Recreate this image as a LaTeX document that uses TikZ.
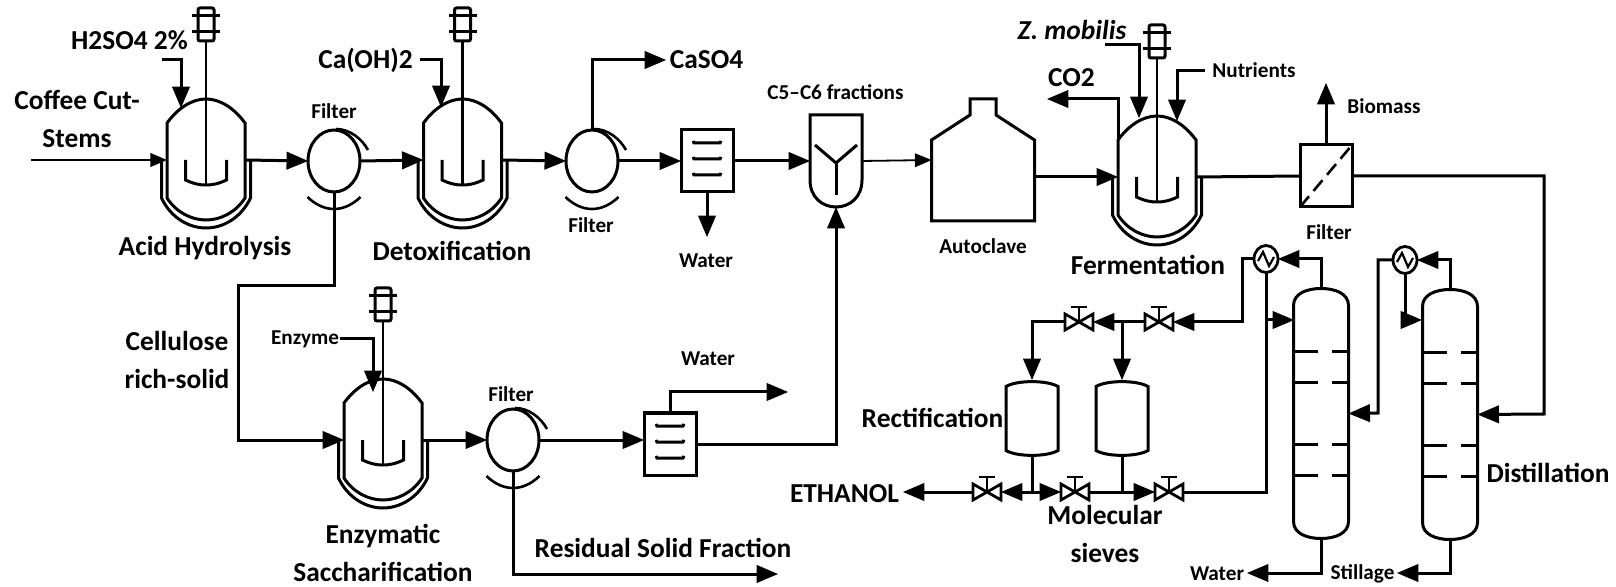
\documentclass[tikz,border=0pt]{standalone}
\usepackage{fontspec}
\setmainfont{Carlito}
\usetikzlibrary{shapes.geometric,arrows}
\tikzstyle{lbig} = [align=center, inner sep=0pt, text height=11pt, text depth=1pt, font=\fontsize{13.7}{19}\selectfont\bfseries]
\tikzstyle{ltwo} = [align=center, inner sep=0pt, font=\fontsize{13.7}{19}\selectfont\bfseries]
\tikzstyle{lsmall} = [align=center, inner sep=0pt, text height=8.5pt, text depth=1pt, font=\fontsize{10.6}{13}\selectfont\bfseries]
\tikzstyle{vessel} = [inner sep=0pt, outer sep=0pt, minimum width=39pt, minimum height=61pt]
\tikzstyle{drum} = [ellipse, draw=black, line width=1.5pt, inner sep=0pt, outer sep=0pt, minimum width=26pt, minimum height=31pt]
\tikzstyle{washer} = [rectangle, draw=black, line width=1.5pt, inner sep=0pt, outer sep=0pt, minimum width=26pt, minimum height=31pt]
\tikzstyle{splitter} = [inner sep=0pt, outer sep=0pt, minimum width=26pt, minimum height=46pt]
\tikzstyle{autoclave} = [inner sep=0pt, outer sep=0pt, minimum width=51.5pt, minimum height=61pt]
\tikzstyle{membrane} = [rectangle, draw=black, line width=1.5pt, inner sep=0pt, outer sep=0pt, minimum width=26pt, minimum height=31pt]
\tikzstyle{condenser} = [ellipse, draw=black, line width=1.4pt, inner sep=0pt, outer sep=0pt, minimum width=12pt, minimum height=13.5pt]
\tikzstyle{column} = [inner sep=0pt, outer sep=0pt, minimum width=27.5pt, minimum height=125pt]
\tikzstyle{tank} = [inner sep=0pt, outer sep=0pt, minimum width=26pt, minimum height=38.5pt]
\tikzstyle{valve} = [inner sep=0pt, outer sep=0pt, minimum width=14pt, minimum height=8pt]
\tikzstyle{flow} = [line width=1.5pt, -triangle 45]
\tikzstyle{thinflow} = [line width=0.9pt, -triangle 45]
\tikzstyle{pipe} = [line width=1.5pt]
\tikzset{
  reactor/.pic={
    \draw[line width=1.5pt] (-39,38) -- (-39,-37) .. controls (-28,-52) and (-14,-61) .. (0,-61) .. controls (14,-61) and (28,-52) .. (39,-37) -- (39,38) .. controls (30,52) and (15,60) .. (0,60) .. controls (-15,60) and (-30,52) .. (-39,38) -- cycle;
    \draw[line width=1.5pt] (-44.5,0) -- (-44.5,38) .. controls (-35,58) and (-17,68) .. (0,68) .. controls (17,68) and (35,58) .. (44.5,38) -- (44.5,0);
    \draw[line width=1.4pt] (0,-119) -- (0,25);
    \draw[line width=1.5pt] (-20.5,0) -- (-20.5,20) .. controls (-12,24) and (-6,25) .. (0,25) .. controls (6,25) and (12,24) .. (20.5,20) -- (20.5,0);
    \draw[line width=1.5pt, rounded corners=1pt] (-8,-152) rectangle (8,-119);
    \draw[line width=1.5pt] (-14,-144) -- (14,-144);
    \draw[line width=1.5pt] (-14,-128) -- (14,-128);
  },
  drumarcs/.pic={
    \draw[line width=1.3pt] (2,-32) .. controls (16,-32) and (28,-22) .. (34,-11);
    \draw[line width=1.3pt] (-26.5,36) .. controls (-10,52) and (10,52) .. (26.5,36);
  },
  trays/.pic={
    \foreach \ty in {-18,-2,14} {
      \draw[line width=1.5pt] (-14,\ty-2) -- (-13,\ty) -- (13,\ty) -- (14,\ty-2);
    }
  },
  splitbody/.pic={
    \draw[line width=1.5pt] (-26,-46) -- (26,-46) -- (26,19) .. controls (26,36) and (14,46) .. (0,46) .. controls (-14,46) and (-26,36) .. (-26,19) -- cycle;
    \draw[line width=1.5pt] (-21,-16) -- (0,2) -- (21,-16);
    \draw[line width=1.5pt] (0,2) -- (0,34);
  },
  clavebody/.pic={
    \draw[line width=1.5pt] (-51.5,61) -- (-51.5,-20) -- (-13,-45) -- (-13,-61) -- (13,-61) -- (13,-45) -- (51.5,-20) -- (51.5,61) -- cycle;
  },
  colbody/.pic={
    \draw[line width=1.5pt] (-27.5,-108) .. controls (-27.5,-120) and (-14,-125) .. (0,-125) .. controls (14,-125) and (27.5,-120) .. (27.5,-108) -- (27.5,108) .. controls (27.5,120) and (14,125) .. (0,125) .. controls (-14,125) and (-27.5,120) .. (-27.5,108) -- cycle;
    \foreach \ty in {-62,-31,31,62} {
      \draw[line width=1.5pt] (-27.5,\ty) -- (-3,\ty);
      \draw[line width=1.5pt] (11,\ty) -- (27.5,\ty);
    }
  },
  tankbody/.pic={
    \draw[line width=1.5pt] (-26,-32) .. controls (-15,-38.5) and (15,-38.5) .. (26,-32) -- (26,32) .. controls (15,38.5) and (-15,38.5) .. (-26,32) -- cycle;
  },
  valvebody/.pic={
    \draw[line width=1.4pt] (-14,-8) -- (0,0) -- (-14,8) -- cycle;
    \draw[line width=1.4pt] (14,-8) -- (0,0) -- (14,8) -- cycle;
    \draw[line width=1.4pt] (0,0) -- (0,-15);
    \draw[line width=1.4pt] (-8,-15) -- (8,-15);
  },
  zigzag/.pic={
    \draw[line width=1.1pt] (-8,2) -- (-3,-7) -- (3,7) -- (8,-2);
  }
}
\begin{document}
\begin{tikzpicture}[x=0.5pt,y=-0.5pt]
    \useasboundingbox (0,0) rectangle (1616,587);
    % vessels
    \node (R1) [vessel] at (206,160) {};
    \node (R2) [vessel] at (462.5,160) {};
    \node (R3) [vessel] at (383,440) {};
    \node (R4) [vessel] at (1157,177) {};
    \pic at (R1) {reactor};
    \pic at (R2) {reactor};
    \pic at (R3) {reactor};
    \pic at (R4) {reactor};
    \node (F1) [drum] at (334,161) {};
    \node (F2) [drum] at (592,161) {};
    \node (F3) [drum] at (513,440) {};
    \pic at (F1) {drumarcs};
    \pic at (F2) {drumarcs};
    \pic at (F3) {drumarcs};
    \node (W1) [washer] at (707,161) {};
    \node (W2) [washer] at (670,444) {};
    \pic at (W1) {trays};
    \pic at (W2) {trays};
    \node (S1) [splitter] at (836,161) {};
    \pic at (S1) {splitbody};
    \node (A1) [autoclave] at (983,160) {};
    \pic at (A1) {clavebody};
    \node (M1) [membrane] at (1326,176) {};
    \draw[line width=1.3pt, dash pattern=on 7pt off 3.5pt] (M1.south west) -- (M1.north east);
    \node (D1) [column] at (1321,413.5) {};
    \node (D2) [column] at (1450,414.5) {};
    \pic at (D1) {colbody};
    \pic at (D2) {colbody};
    \node (C1) [condenser] at (1266,259) {};
    \node (C2) [condenser] at (1405,260) {};
    \pic at (C1) {zigzag};
    \pic at (C2) {zigzag};
    \node (T1) [tank] at (1032,418.5) {};
    \node (T2) [tank] at (1122,418.5) {};
    \pic at (T1) {tankbody};
    \pic at (T2) {tankbody};
    \node (V1) [valve] at (1079,322) {};
    \node (V2) [valve] at (1159,322) {};
    \node (V3) [valve] at (987,492) {};
    \node (V4) [valve] at (1075,492) {};
    \node (V5) [valve] at (1169,492) {};
    \pic at (V1) {valvebody};
    \pic at (V2) {valvebody};
    \pic at (V3) {valvebody};
    \pic at (V4) {valvebody};
    \pic at (V5) {valvebody};
    % labels
    \node (lCoffee) [ltwo] at (77,119) {Coffee Cut-\\Stems};
    \node (lH2SO4) [lbig] at (129.5,40) {H2SO4 2\%};
    \node (lCaOH) [lbig] at (365.5,59) {Ca(OH)2};
    \node (lCaSO4) [lbig] at (706.5,59) {CaSO4};
    \node (lHydro) [lbig] at (205,246) {Acid Hydrolysis};
    \node (lDetox) [lbig] at (452,251) {Detoxification};
    \node (lFer) [lbig] at (1148,265) {Fermentation};
    \node (lCO2) [lbig] at (1071.5,77) {CO2};
    \node (lZm) [lbig] at (1072,30) {\itshape Z. mobilis};
    \node (lCell) [ltwo] at (177,359.5) {Cellulose\\rich-solid};
    \node (lEnz) [ltwo] at (383,553) {Enzymatic\\Saccharification};
    \node (lRes) [lbig] at (663,547) {Residual Solid Fraction};
    \node (lEth) [lbig] at (844.5,492) {ETHANOL};
    \node (lRect) [lbig] at (932.5,418) {Rectification};
    \node (lMol) [ltwo] at (1105,533.5) {Molecular\\sieves};
    \node (lDist) [lbig] at (1548,472.5) {Distillation};
    \node (lF1) [lsmall] at (334,111) {Filter};
    \node (lF2) [lsmall] at (591,225) {Filter};
    \node (lF3) [lsmall] at (511,394) {Filter};
    \node (lF4) [lsmall] at (1329,232) {Filter};
    \node (lWat1) [lsmall] at (706,260) {Water};
    \node (lWat2) [lsmall] at (708,358) {Water};
    \node (lWat3) [lsmall] at (1217,573) {Water};
    \node (lC5) [lsmall] at (835.5,92) {C5--C6 fractions};
    \node (lAuto) [lsmall] at (983,246) {Autoclave};
    \node (lNut) [lsmall] at (1254,70) {Nutrients};
    \node (lBio) [lsmall] at (1384,106) {Biomass};
    \node (lEnzyme) [lsmall] at (305,337) {Enzyme};
    \node (lStill) [lsmall] at (1362.5,572) {Stillage};
    % free ends
    \coordinate (inCoffee) at (31,160);
    \coordinate (sH2SO4) at (162,60);
    \coordinate (eH2SO4) at (181,108);
    \coordinate (sCaOH) at (419.5,60);
    \coordinate (eCaOH) at (441,107);
    \coordinate (eCaSO4) at (666,60);
    \coordinate (eWat1) at (707,237);
    \coordinate (sEnzyme) at (340,339);
    \coordinate (eEnzyme) at (373,392);
    \coordinate (eWat2) at (788,392);
    \coordinate (eRes) at (778,574);
    \coordinate (sZm) at (1105,45);
    \coordinate (eZm) at (1139,118);
    \coordinate (sNut) at (1205,71);
    \coordinate (eNut) at (1177,121);
    \coordinate (sCO2) at (1118,138);
    \coordinate (eCO2) at (1047,99);
    \coordinate (eBio) at (1326,83);
    \coordinate (inD1) at (1294,320);
    \coordinate (inD2) at (1422,320);
    \coordinate (eWat3) at (1247,573);
    \coordinate (eStill) at (1397,573);
    \coordinate (eEth) at (903,492);
    \coordinate (jT1) at (1032,492);
    \coordinate (jT2) at (1122,492);
    \coordinate (jV) at (1122,322);
    % connectors
    \draw[thinflow] (inCoffee) -- (R1.west);
    \draw[flow] (R1.east) -- (F1.west);
    \draw[flow] (F1.east) -- (R2.west);
    \draw[flow] (R2.east) -- (F2.west);
    \draw[flow] (F2.east) -- (W1.west);
    \draw[flow] (W1.east) -- (S1.west);
    \draw[thinflow] (S1.east) -- (A1.west);
    \draw[flow] (A1.east |- R4.west) -- (R4.west);
    \draw[pipe] (R4.east) -- (M1.west);
    \draw[flow] (M1.north) -- (eBio);
    \draw[flow] (M1.east) -| (1544,414) -- (D2.east);
    \draw[flow] (sH2SO4) -| (eH2SO4);
    \draw[flow] (sCaOH) -| (eCaOH);
    \draw[flow] (F2.north) |- (eCaSO4);
    \draw[flow] (W1.south) -- (eWat1);
    \draw[flow] (F1.south) |- (238,286) |- (R3.west);
    \draw[flow] (sEnzyme) -| (eEnzyme);
    \draw[flow] (R3.east) -- (F3.west);
    \draw[flow] (F3.east) -- (W2.west |- F3.east);
    \draw[flow] (W2.north) |- (eWat2);
    \draw[flow] (W2.east) -| (S1.south);
    \draw[flow] (F3.south) |- (eRes);
    \draw[flow] (sZm) -| (eZm);
    \draw[flow] (sNut) -| (eNut);
    \draw[flow] (sCO2) |- (eCO2);
    \draw[flow] (D1.north) |- (C1.east);
    \draw[flow] (D2.north) |- (C2.east);
    \draw[flow] (C2.west) -| (1378,413) -- (D1.east);
    \draw[flow] (C2.south) |- (inD2);
    \draw[pipe] (C1.south) -- (C1.south |- V5.east) -- (V5.east);
    \draw[flow] (C1.south |- inD1) -- (inD1);
    \draw[flow] (C1.west) -| (1242,322) -- (V2.east);
    \draw[flow] (V2.west) -- (V1.east);
    \draw[flow] (V1.west) -| (T1.north);
    \draw[flow] (jV) -- (T2.north);
    \draw[pipe] (T1.south) -- (jT1);
    \draw[pipe] (T2.south) -- (jT2);
    \draw[flow] (jT1) -- (V3.east);
    \draw[flow] (jT1) -- (V4.west);
    \draw[flow] (V4.east) -- (V5.west);
    \draw[flow] (V3.west) -- (eEth);
    \draw[flow] (D1.south) |- (eWat3);
    \draw[flow] (D2.south) |- (eStill);
\end{tikzpicture}
\end{document}
